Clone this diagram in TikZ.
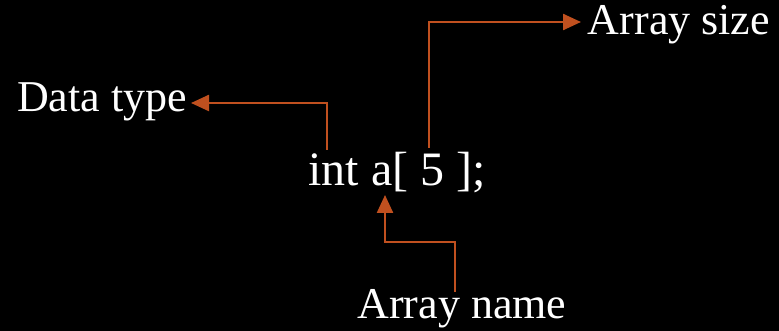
\documentclass[tikz,border=0pt]{standalone}
\usepackage{fontspec}
\setmainfont{Liberation Serif}
\usetikzlibrary{arrows.meta}
\definecolor{arr}{HTML}{C0501F}
\begin{document}
\begin{tikzpicture}[x=1pt,y=-1pt,
  lbl/.style={text=white,font=\fontsize{44}{48}\selectfont,inner sep=0pt},
  conn/.style={draw=arr,line width=2.4pt,-{Triangle[length=18pt,width=16pt]}}]
\fill[black] (0,0) rectangle (779,331);
\useasboundingbox (0,0) rectangle (779,331);
\node[lbl,anchor=base,font=\fontsize{48}{52}\selectfont] (code) at (397,186) {int a[ 5 ];};
\node[lbl,anchor=base] (dt) at (102,112) {Data type};
\node[lbl,anchor=base] (as) at (679,35) {Array size};
\node[lbl,anchor=base] (an) at (462,318) {Array name};
\coordinate (c1) at (327,150);
\coordinate (c2) at (429,148);
\coordinate (c3) at (455,292);
\coordinate (atip) at (385,195);
\coordinate (dtip) at (191,103);
\coordinate (stip) at (581,22);
\draw[conn] (c1) |- (dtip);
\draw[conn] (c2) |- (stip);
\draw[conn] (c3) -- (455,242) -| (atip);
\end{tikzpicture}
\end{document}
